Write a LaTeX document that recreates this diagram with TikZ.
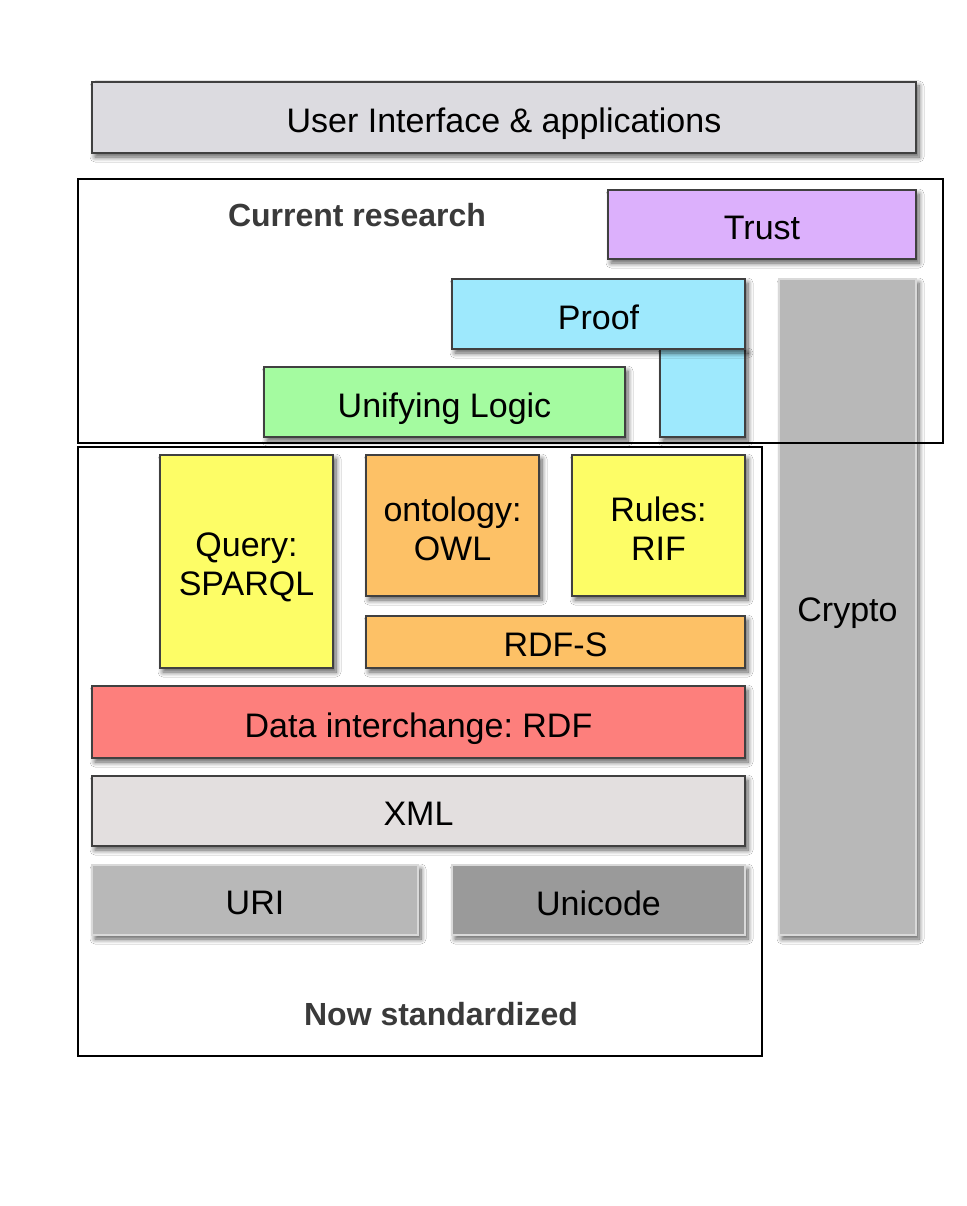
\documentclass[tikz,border=0pt]{standalone}
\usepackage{fontspec}
\setmainfont{Liberation Sans}
\usetikzlibrary{shadows.blur}
\frenchspacing

\definecolor{uicol}{HTML}{DCDBE0}
\definecolor{trustcol}{HTML}{DCB0FC}
\definecolor{proofcol}{HTML}{9EE9FD}
\definecolor{logiccol}{HTML}{A4FBA0}
\definecolor{yellowcol}{HTML}{FDFD66}
\definecolor{orangecol}{HTML}{FDC166}
\definecolor{rdfcol}{HTML}{FD7F7C}
\definecolor{xmlcol}{HTML}{E3DFDF}
\definecolor{uricol}{HTML}{B8B8B8}
\definecolor{unicol}{HTML}{9A9A9A}
\definecolor{labelcol}{HTML}{3A3A3A}

% text line centred on its capitals, a little below the middle
\newcommand{\lbl}[1]{\raisebox{-3pt}[\height][0pt]{#1}}

\tikzset{
  layer/.style={draw=black!75, line width=1.3pt, inner sep=0pt, align=center,
    font=\fontsize{34}{39}\selectfont,
    blur shadow={shadow xshift=3pt, shadow yshift=-4pt, shadow blur radius=5pt, shadow blur steps=8, shadow opacity=65}},
  greylayer/.style={layer, draw=white!85!black},
  frame/.style={draw=black, line width=2pt},
  framelabel/.style={font=\fontsize{32}{37}\selectfont\bfseries, text=labelcol}
}

\begin{document}
\begin{tikzpicture}[x=1pt,y=-1pt]
  \fill[white] (0,0) rectangle (966,1206);
  \useasboundingbox (0,0) rectangle (966,1206);

  % top
  \node[layer, fill=uicol, minimum width=824pt, minimum height=71pt] (ui) at (504,117.5) {\lbl{User Interface \& applications}};

  % current research
  \node[layer, fill=trustcol, minimum width=308pt, minimum height=69pt] (trust) at (762,224.5) {\lbl{Trust}};
  \node[layer, fill=proofcol, minimum width=85pt, minimum height=88pt] (prooflow) at (702.5,393) {};
  \node[layer, fill=proofcol, minimum width=293pt, minimum height=70pt] (proof) at (598.5,314) {\lbl{Proof}};
  \node[layer, fill=logiccol, minimum width=361pt, minimum height=70pt] (logic) at (444.5,402) {\lbl{Unifying Logic}};
  \node[greylayer, fill=uricol, minimum width=137pt, minimum height=656pt] (crypto) at (847.5,607) {\lbl{Crypto}};

  % now standardized
  \node[layer, fill=yellowcol, minimum width=173pt, minimum height=213pt] (query) at (246.5,561.5) {\lbl{Query:}\\\lbl{SPARQL}};
  \node[layer, fill=orangecol, minimum width=173pt, minimum height=141pt] (owl) at (452.5,525.5) {\lbl{ontology:}\\\lbl{OWL}};
  \node[layer, fill=yellowcol, minimum width=173pt, minimum height=141pt] (rif) at (658.5,525.5) {\lbl{Rules:}\\\lbl{RIF}};
  \node[layer, fill=orangecol, minimum width=379pt, minimum height=52pt] (rdfs) at (555.5,642) {\lbl{RDF-S}};
  \node[layer, fill=rdfcol, minimum width=653pt, minimum height=72pt] (rdf) at (418.5,722) {\lbl{Data interchange: RDF}};
  \node[layer, fill=xmlcol, minimum width=653pt, minimum height=70pt] (xml) at (418.5,811) {\lbl{XML}};
  \node[greylayer, fill=uricol, minimum width=326pt, minimum height=70pt] (uri) at (255,900) {\lbl{URI}};
  \node[greylayer, fill=unicol, minimum width=293pt, minimum height=70pt] (unicode) at (598.5,900) {\lbl{Unicode}};

  % frames
  \draw[frame] (78,179) rectangle (943,443);
  \draw[frame] (78,447) rectangle (762,1056);
  \node[framelabel] (research) at (357,215) {Current research};
  \node[framelabel] (standard) at (441,1014) {Now standardized};
\end{tikzpicture}
\end{document}
